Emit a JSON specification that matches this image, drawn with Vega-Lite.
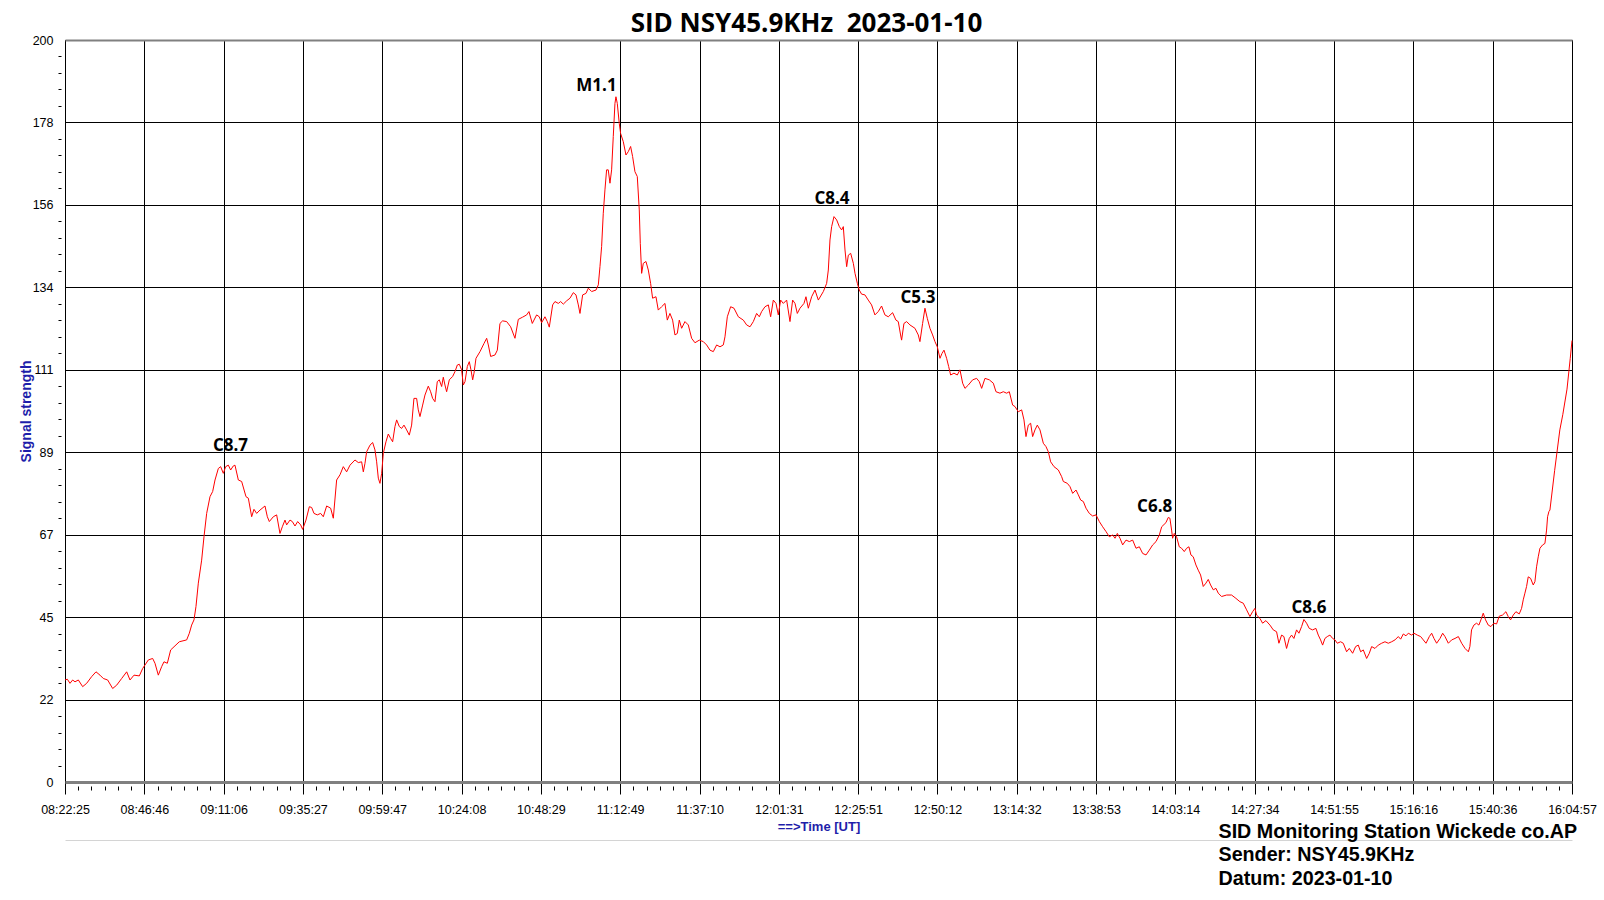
{
"$schema": "https://vega.github.io/schema/vega-lite/v6.json",
"width": 1507, "height": 742,
"autosize": {"type": "none"},
"padding": {"left": 65, "top": 40, "right": 32, "bottom": 118},
"background": "white",
"config": {"view": {"stroke": "black", "strokeWidth": 1}, "font": "Liberation Sans"},
"title": {"text": "SID NSY45.9KHz \u00a02023-01-10", "font": "Open Sans", "fontSize": 26, "fontWeight": "bold", "color": "black", "anchor": "middle", "frame": "group", "dx": -12, "dy": 30, "offset": 6, "baseline": "alphabetic"},
"datasets": {
"flares": [
{"t":50.80,"v":89.2,"label":"C8.7"},{"t":163.13,"v":186.2,"label":"M1.1"},{"t":235.41,"v":155.8,"label":"C8.4"},{"t":261.80,"v":129.1,"label":"C5.3"},{"t":334.45,"v":72.8,"label":"C6.8"},{"t":381.81,"v":45.6,"label":"C8.6"}
],
"sid": [
{"t":0,"v":27.5},{"t":0.72,"v":27.7},{"t":1.53,"v":26.6},{"t":2.35,"v":27.5},{"t":3.07,"v":27.0},{"t":4.09,"v":27.5},{"t":5.42,"v":25.7},{"t":6.65,"v":26.6},{"t":8.18,"v":28.4},{"t":9.51,"v":29.7},{"t":10.74,"v":28.8},{"t":11.76,"v":27.9},{"t":13.09,"v":27.5},{"t":14.63,"v":25.2},{"t":15.86,"v":26.1},{"t":17.39,"v":27.9},{"t":18.93,"v":29.7},{"t":19.95,"v":27.5},{"t":21.18,"v":28.8},{"t":22.81,"v":28.6},{"t":23.84,"v":30.6},{"t":25.58,"v":32.9},{"t":26.90,"v":33.3},{"t":27.62,"v":32.0},{"t":28.64,"v":28.8},{"t":29.67,"v":31.1},{"t":30.38,"v":32.4},{"t":31.41,"v":32.0},{"t":32.43,"v":35.6},{"t":33.76,"v":36.7},{"t":35.09,"v":37.8},{"t":37.34,"v":38.3},{"t":38.16,"v":40.1},{"t":38.87,"v":42.3},{"t":39.59,"v":43.7},{"t":40.20,"v":47.3},{"t":40.92,"v":53.6},{"t":41.94,"v":59.8},{"t":42.66,"v":66.1},{"t":43.48,"v":72.4},{"t":44.50,"v":76.9},{"t":45.32,"v":78.3},{"t":46.04,"v":81.4},{"t":47.06,"v":84.5},{"t":47.77,"v":85.0},{"t":48.59,"v":83.2},{"t":49.31,"v":85.0},{"t":50.13,"v":85.4},{"t":50.84,"v":84.1},{"t":51.66,"v":85.2},{"t":52.17,"v":85.4},{"t":53.20,"v":81.4},{"t":54.22,"v":81.0},{"t":55.55,"v":76.9},{"t":56.27,"v":76.5},{"t":57.29,"v":71.5},{"t":58.00,"v":73.5},{"t":58.82,"v":72.4},{"t":59.85,"v":73.3},{"t":61.38,"v":74.4},{"t":62.10,"v":71.5},{"t":62.71,"v":70.2},{"t":63.94,"v":71.5},{"t":64.96,"v":72.0},{"t":65.98,"v":67.0},{"t":66.70,"v":68.8},{"t":67.52,"v":70.6},{"t":68.03,"v":69.3},{"t":69.05,"v":70.6},{"t":69.77,"v":70.2},{"t":70.59,"v":69.0},{"t":71.41,"v":70.2},{"t":72.33,"v":69.3},{"t":72.94,"v":68.1},{"t":73.96,"v":70.6},{"t":74.99,"v":74.2},{"t":75.70,"v":74.0},{"t":76.42,"v":72.4},{"t":77.44,"v":72.0},{"t":78.46,"v":72.4},{"t":79.28,"v":71.5},{"t":80.31,"v":74.4},{"t":81.53,"v":73.8},{"t":82.35,"v":71.1},{"t":83.37,"v":81.4},{"t":84.40,"v":82.8},{"t":85.42,"v":85.0},{"t":86.44,"v":83.6},{"t":87.47,"v":85.4},{"t":89.00,"v":86.8},{"t":90.02,"v":86.1},{"t":91.05,"v":86.3},{"t":91.56,"v":83.6},{"t":92.07,"v":85.9},{"t":92.58,"v":89.0},{"t":93.61,"v":90.8},{"t":94.43,"v":91.5},{"t":95.14,"v":89.5},{"t":95.65,"v":86.3},{"t":96.16,"v":81.9},{"t":96.67,"v":80.5},
{"t":97.19,"v":83.2},{"t":97.70,"v":88.6},{"t":98.51,"v":91.7},{"t":99.23,"v":93.8},{"t":99.95,"v":92.6},{"t":100.56,"v":91.7},{"t":101.27,"v":95.8},{"t":101.79,"v":97.6},{"t":102.61,"v":95.8},{"t":103.32,"v":95.3},{"t":104.04,"v":96.2},{"t":104.86,"v":94.9},{"t":105.67,"v":93.5},{"t":106.39,"v":96.2},{"t":107.10,"v":103.4},{"t":107.92,"v":103.4},{"t":108.43,"v":100.3},{"t":108.95,"v":98.5},{"t":109.77,"v":101.6},{"t":110.48,"v":104.3},{"t":111.50,"v":106.7},{"t":112.22,"v":105.2},{"t":112.83,"v":103.4},{"t":113.55,"v":102.5},{"t":114.26,"v":107.9},{"t":114.88,"v":108.4},{"t":115.60,"v":106.6},{"t":116.11,"v":109.1},{"t":116.62,"v":107.0},{"t":117.13,"v":105.2},{"t":117.95,"v":108.4},{"t":118.97,"v":109.3},{"t":119.69,"v":110.6},{"t":120.41,"v":112.4},{"t":121.02,"v":112.6},{"t":121.74,"v":111.1},{"t":122.25,"v":107.0},{"t":122.76,"v":107.9},{"t":123.48,"v":112.0},{"t":124.09,"v":113.3},{"t":124.60,"v":111.1},{"t":125.12,"v":108.4},{"t":125.53,"v":110.2},{"t":126.14,"v":114.2},{"t":127.37,"v":116.0},{"t":128.60,"v":118.2},{"t":129.42,"v":119.6},{"t":129.93,"v":117.8},{"t":130.64,"v":114.7},{"t":131.97,"v":115.1},{"t":132.69,"v":116.4},{"t":133.50,"v":123.6},{"t":134.32,"v":124.3},{"t":135.55,"v":124.1},{"t":136.78,"v":122.7},{"t":138.11,"v":119.6},{"t":139.13,"v":124.7},{"t":140.46,"v":125.3},{"t":141.69,"v":125.9},{"t":142.40,"v":126.8},{"t":143.42,"v":123.6},{"t":144.75,"v":125.9},{"t":145.57,"v":125.4},{"t":146.29,"v":123.8},{"t":147.31,"v":125.4},{"t":148.03,"v":124.1},{"t":148.64,"v":122.6},{"t":149.67,"v":128.6},{"t":150.38,"v":129.5},{"t":151.41,"v":129.0},{"t":152.12,"v":129.5},{"t":152.94,"v":128.8},{"t":153.97,"v":129.7},{"t":154.99,"v":130.4},{"t":156.01,"v":131.9},{"t":156.83,"v":131.3},{"t":157.55,"v":128.6},{"t":158.06,"v":126.3},{"t":158.88,"v":131.3},{"t":159.90,"v":131.7},{"t":160.62,"v":133.1},{"t":161.64,"v":132.2},{"t":162.97,"v":132.6},{"t":163.69,"v":134.0},
{"t":164.19,"v":138.9},{"t":164.70,"v":144.3},{"t":165.21,"v":153.3},{"t":165.72,"v":159.6},{"t":166.23,"v":165.0},{"t":166.74,"v":165.0},{"t":167.26,"v":161.4},{"t":167.77,"v":165.0},{"t":168.28,"v":174.0},{"t":168.79,"v":182.9},{"t":169.10,"v":184.7},{"t":169.51,"v":182.9},{"t":170.12,"v":177.5},{"t":170.53,"v":174.8},{"t":171.35,"v":172.6},{"t":172.17,"v":169.0},{"t":172.88,"v":169.9},{"t":173.60,"v":171.3},{"t":174.21,"v":168.6},{"t":174.93,"v":164.5},{"t":175.65,"v":163.2},{"t":176.26,"v":154.2},{"t":176.57,"v":145.2},{"t":176.98,"v":137.1},{"t":177.49,"v":139.8},{"t":178.31,"v":140.3},{"t":179.03,"v":138.0},{"t":179.74,"v":134.4},{"t":180.35,"v":130.4},{"t":181.38,"v":130.8},{"t":182.09,"v":127.2},{"t":183.11,"v":128.1},{"t":184.14,"v":129.0},{"t":184.86,"v":124.5},{"t":185.67,"v":126.3},{"t":186.49,"v":124.5},{"t":187.21,"v":120.5},{"t":187.93,"v":120.9},{"t":188.54,"v":124.5},{"t":189.26,"v":122.3},{"t":190.28,"v":124.1},{"t":191.30,"v":123.2},{"t":192.33,"v":119.6},{"t":193.35,"v":118.4},{"t":194.68,"v":119.1},{"t":195.91,"v":118.7},{"t":196.93,"v":117.8},{"t":197.96,"v":116.4},{"t":198.98,"v":116.0},{"t":200.00,"v":117.8},{"t":201.03,"v":117.3},{"t":202.05,"v":117.8},{"t":202.56,"v":120.0},{"t":203.28,"v":125.4},{"t":204.30,"v":128.1},{"t":205.33,"v":127.7},{"t":206.66,"v":125.4},{"t":208.19,"v":124.5},{"t":209.21,"v":123.2},{"t":210.24,"v":122.7},{"t":211.26,"v":124.1},{"t":212.28,"v":126.3},{"t":213.10,"v":125.4},{"t":213.82,"v":126.8},{"t":214.84,"v":128.1},{"t":215.87,"v":128.6},{"t":216.58,"v":125.4},{"t":217.40,"v":129.9},{"t":218.22,"v":129.0},{"t":218.93,"v":125.9},{"t":219.65,"v":129.9},{"t":220.47,"v":129.0},{"t":221.49,"v":129.9},{"t":222.51,"v":124.1},{"t":223.33,"v":129.9},{"t":224.05,"v":129.0},{"t":224.76,"v":126.3},{"t":225.58,"v":127.7},{"t":226.81,"v":129.0},{"t":227.42,"v":130.8},{"t":228.14,"v":127.7},{"t":229.16,"v":130.8},{"t":230.19,"v":132.6},{"t":231.21,"v":129.9},{"t":232.75,"v":132.2},{"t":233.77,"v":134.4},{"t":234.28,"v":138.0},{"t":234.79,"v":146.1},{"t":235.30,"v":149.7},{"t":236.02,"v":152.4},{"t":236.84,"v":151.5},{"t":237.66,"v":149.7},{"t":238.37,"v":148.8},{"t":238.88,"v":149.7},{"t":239.40,"v":143.4},{"t":239.91,"v":138.9},{"t":240.42,"v":142.0},{"t":241.14,"v":142.5},{"t":241.96,"v":139.8},{"t":242.47,"v":137.1},{"t":243.19,"v":134.4},
{"t":243.78,"v":132.6},{"t":244.49,"v":131.5},{"t":245.51,"v":131.3},{"t":246.54,"v":129.9},{"t":247.56,"v":128.6},{"t":248.58,"v":125.9},{"t":249.61,"v":126.8},{"t":250.63,"v":128.3},{"t":251.65,"v":125.9},{"t":252.68,"v":125.4},{"t":254.01,"v":126.5},{"t":255.03,"v":124.5},{"t":255.75,"v":124.1},{"t":256.46,"v":120.5},{"t":256.77,"v":119.1},{"t":257.49,"v":123.6},{"t":258.31,"v":124.1},{"t":259.33,"v":123.2},{"t":260.87,"v":122.3},{"t":261.89,"v":120.5},{"t":262.40,"v":118.7},{"t":263.22,"v":123.6},{"t":263.94,"v":127.7},{"t":264.65,"v":125.0},{"t":265.47,"v":122.3},{"t":266.29,"v":120.5},{"t":267.01,"v":118.7},{"t":267.73,"v":117.3},{"t":268.55,"v":114.2},{"t":269.16,"v":115.5},{"t":269.78,"v":116.4},{"t":270.59,"v":114.2},{"t":271.21,"v":112.0},{"t":271.82,"v":109.7},{"t":272.85,"v":110.2},{"t":273.87,"v":109.7},{"t":274.69,"v":111.1},{"t":275.51,"v":107.5},{"t":276.22,"v":106.1},{"t":277.25,"v":107.0},{"t":278.58,"v":108.4},{"t":279.80,"v":108.8},{"t":280.62,"v":107.9},{"t":281.34,"v":106.1},{"t":282.36,"v":108.8},{"t":283.69,"v":108.4},{"t":284.92,"v":107.5},{"t":285.74,"v":105.2},{"t":286.96,"v":104.8},{"t":287.99,"v":105.2},{"t":289.01,"v":104.8},{"t":289.83,"v":105.2},{"t":290.85,"v":101.6},{"t":291.57,"v":101.2},{"t":292.59,"v":99.8},{"t":293.62,"v":100.3},{"t":294.33,"v":97.6},{"t":294.95,"v":93.1},{"t":295.66,"v":96.2},{"t":296.38,"v":96.7},{"t":296.99,"v":93.1},{"t":297.71,"v":94.9},{"t":298.43,"v":96.2},{"t":299.25,"v":94.9},{"t":300.27,"v":91.3},{"t":301.09,"v":90.4},{"t":301.81,"v":89.0},{"t":302.52,"v":86.3},{"t":303.55,"v":85.0},{"t":304.88,"v":84.1},{"t":305.90,"v":82.3},{"t":306.41,"v":81.0},{"t":307.64,"v":80.5},{"t":308.46,"v":79.6},{"t":309.28,"v":77.8},{"t":310.30,"v":78.7},{"t":311.01,"v":77.4},{"t":311.73,"v":76.0},{"t":312.55,"v":75.6},{"t":313.37,"v":73.8},{"t":314.39,"v":72.4},{"t":315.41,"v":71.7},{"t":316.44,"v":72.0},{"t":317.46,"v":70.2},{"t":318.48,"v":68.8},{"t":319.51,"v":67.5},{"t":320.53,"v":66.1},{"t":321.55,"v":66.6},{"t":322.27,"v":65.7},{"t":322.99,"v":67.0},{"t":323.80,"v":65.7},{"t":324.62,"v":63.9},{"t":325.65,"v":65.2},{"t":326.67,"v":64.8},{"t":327.69,"v":65.2},{"t":328.72,"v":63.0},{"t":329.74,"v":63.4},{"t":330.76,"v":61.6},{"t":331.79,"v":61.2},{"t":332.81,"v":62.5},{"t":333.83,"v":63.9},{"t":334.86,"v":64.8},{"t":335.88,"v":66.6},{"t":336.60,"v":68.8},
{"t":337.90,"v":69.9},{"t":338.61,"v":71.3},{"t":339.12,"v":71.1},{"t":339.64,"v":67.9},{"t":339.95,"v":65.7},{"t":340.46,"v":67.0},{"t":341.17,"v":66.1},{"t":341.99,"v":63.4},{"t":342.71,"v":63.0},{"t":343.53,"v":62.1},{"t":344.24,"v":63.0},{"t":344.96,"v":63.4},{"t":345.57,"v":61.2},{"t":346.29,"v":60.7},{"t":347.11,"v":58.5},{"t":347.82,"v":57.1},{"t":348.54,"v":55.8},{"t":349.36,"v":52.7},{"t":350.18,"v":53.6},{"t":350.89,"v":54.6},{"t":351.61,"v":53.1},{"t":352.43,"v":51.8},{"t":353.25,"v":52.2},{"t":353.96,"v":50.9},{"t":354.98,"v":50.0},{"t":356.52,"v":50.4},{"t":358.05,"v":50.4},{"t":359.38,"v":49.5},{"t":360.61,"v":48.6},{"t":361.63,"v":48.2},{"t":362.66,"v":46.4},{"t":363.68,"v":44.6},{"t":364.50,"v":45.9},{"t":365.21,"v":46.8},{"t":365.72,"v":45.0},{"t":366.75,"v":44.1},{"t":367.57,"v":42.8},{"t":368.59,"v":43.5},{"t":369.82,"v":42.3},{"t":370.84,"v":41.0},{"t":371.86,"v":40.5},{"t":372.58,"v":37.4},{"t":373.40,"v":39.6},{"t":374.11,"v":39.2},{"t":374.93,"v":36.0},{"t":375.75,"v":38.7},{"t":376.47,"v":39.6},{"t":377.18,"v":38.7},{"t":378.00,"v":41.0},{"t":378.72,"v":40.1},{"t":379.54,"v":41.9},{"t":380.25,"v":43.8},{"t":381.07,"v":42.8},{"t":381.89,"v":41.4},{"t":382.91,"v":41.0},{"t":383.94,"v":41.4},{"t":384.66,"v":39.6},{"t":385.37,"v":38.3},{"t":385.99,"v":36.9},{"t":386.70,"v":38.7},{"t":387.42,"v":39.2},{"t":388.24,"v":39.6},{"t":389.06,"v":38.7},{"t":389.78,"v":38.3},{"t":390.49,"v":37.4},{"t":391.51,"v":37.8},{"t":392.33,"v":37.4},{"t":393.36,"v":35.1},{"t":394.18,"v":36.0},{"t":395.20,"v":34.7},{"t":396.12,"v":36.5},{"t":396.94,"v":36.9},{"t":397.66,"v":35.1},{"t":398.48,"v":35.6},{"t":399.50,"v":33.3},{"t":400.32,"v":34.7},{"t":401.04,"v":36.5},{"t":402.06,"v":36.0},{"t":403.08,"v":36.9},{"t":404.11,"v":37.4},{"t":405.13,"v":37.8},{"t":406.15,"v":37.4},{"t":407.18,"v":37.8},{"t":408.20,"v":38.3},{"t":409.22,"v":39.2},{"t":409.94,"v":38.5},{"t":410.76,"v":39.9},{"t":411.58,"v":39.4},{"t":412.29,"v":40.1},{"t":413.32,"v":39.6},{"t":414.03,"v":40.1},{"t":415.05,"v":39.6},{"t":416.08,"v":39.2},{"t":416.90,"v":38.3},{"t":417.72,"v":37.4},{"t":418.74,"v":39.2},{"t":419.46,"v":40.1},{"t":420.17,"v":38.7},{"t":420.99,"v":37.4},{"t":422.02,"v":38.7},{"t":422.84,"v":40.1},{"t":423.55,"v":39.2},{"t":424.58,"v":37.4},{"t":425.60,"v":38.3},{"t":426.63,"v":38.7},{"t":427.65,"v":39.2},{"t":428.67,"v":37.4},{"t":429.70,"v":36.0},{"t":430.72,"v":35.1},
{"t":431.19,"v":36.5},{"t":431.70,"v":41.0},{"t":432.42,"v":42.3},{"t":433.24,"v":42.8},{"t":433.96,"v":42.3},{"t":434.57,"v":43.7},{"t":435.29,"v":45.5},{"t":436.00,"v":43.7},{"t":436.82,"v":42.3},{"t":437.64,"v":41.9},{"t":438.56,"v":42.8},{"t":439.38,"v":42.6},{"t":440.20,"v":44.7},{"t":441.22,"v":45.0},{"t":442.25,"v":45.9},{"t":442.96,"v":44.6},{"t":443.68,"v":43.7},{"t":444.50,"v":45.0},{"t":445.32,"v":45.9},{"t":446.34,"v":45.3},{"t":447.06,"v":46.8},{"t":447.57,"v":49.1},{"t":448.08,"v":50.9},{"t":448.59,"v":52.7},{"t":449.10,"v":55.3},{"t":449.82,"v":54.9},{"t":450.64,"v":53.1},{"t":451.15,"v":54.0},{"t":451.66,"v":58.0},{"t":452.17,"v":60.7},{"t":452.69,"v":63.0},{"t":453.51,"v":63.9},{"t":454.22,"v":64.3},{"t":454.73,"v":67.9},{"t":455.04,"v":71.5},{"t":455.45,"v":72.9},{"t":455.76,"v":73.3},{"t":457.2,"v":83.9},{"t":458.8,"v":94.9},{"t":459.7,"v":99.0},{"t":461.0,"v":105.9},{"t":462.0,"v":114.2},{"t":462.53,"v":119.0}
]
},
"resolve": {"axis": {"x": "independent", "y": "independent"}},
"layer": [
{
"data": {"name": "sid"},
"mark": {"type": "line", "color": "#ff0000", "strokeWidth": 1},
"encoding": {
"x": {"field": "t", "type": "quantitative", "scale": {"domain": [0, 462.53333], "nice": false, "zero": false},
 "axis": {"orient": "bottom", "values": [0, 24.35, 48.68333, 73.03333, 97.36667, 121.71667, 146.06667, 170.4, 194.75, 219.1, 243.43333, 267.78333, 292.11667, 316.46667, 340.81667, 365.15, 389.5, 413.85, 438.18333, 462.53333],
  "labelExpr": "utcFormat(round(datum.value*60)*1000 + 30145000, '%H:%M:%S')",
  "grid": true, "gridColor": "black", "gridOpacity": 1, "gridWidth": 1,
  "domain": false, "ticks": true, "tickColor": "black", "tickSize": 12, "tickWidth": 1,
  "labelFont": "Liberation Sans", "labelFontSize": 12.5, "labelColor": "black", "labelBaseline": "alphabetic", "labelPadding": 19,
  "labelFlush": false, "labelOverlap": false, "labelBound": false,
  "title": "==>Time [UT]", "titleFont": "Liberation Sans", "titleFontSize": 13, "titleFontWeight": "bold", "titleColor": "#1e1eaa",
  "titleX": 753.5, "titleY": 48, "titleAlign": "center", "titleBaseline": "alphabetic"}},
"y": {"field": "v", "type": "quantitative", "scale": {"domain": [0, 200], "nice": false, "zero": false},
 "axis": {"orient": "left", "values": [0, 22.22222, 44.44444, 66.66667, 88.88889, 111.11111, 133.33333, 155.55556, 177.77778, 200],
  "labelExpr": "['0','22','45','67','89','111','134','156','178','200'][round(datum.value*9/200)]",
  "grid": true, "gridColor": "black", "gridWidth": 1,
  "gridOpacity": {"condition": {"test": "datum.value < 1 || datum.value > 199", "value": 0}, "value": 1},
  "domain": false, "ticks": false, "labelPadding": 12,
  "labelFont": "Liberation Sans", "labelFontSize": 12.5, "labelColor": "black",
  "labelFlush": false, "labelOverlap": false, "labelBound": false,
  "title": "Signal strength", "titleFont": "Liberation Sans", "titleFontSize": 14, "titleFontWeight": "bold", "titleColor": "#1e1eaa",
  "titleX": -35, "titleY": 371, "titleAngle": 270, "titleAlign": "center", "titleBaseline": "alphabetic"}}
}
},
{
"data": {"name": "sid"},
"mark": {"type": "line", "strokeOpacity": 0},
"encoding": {
"x": {"field": "t", "type": "quantitative", "scale": {"domain": [0, 462.53333], "nice": false, "zero": false},
 "axis": {"orient": "bottom", "offset": 4, "values": [4.06,8.11,12.17,16.23,20.29,28.40,32.46,36.52,40.57,44.63,52.74,56.80,60.86,64.92,68.97,77.09,81.15,85.20,89.26,93.32,101.43,105.49,109.55,113.60,117.66,125.78,129.83,133.89,137.95,142.01,150.12,154.18,158.24,162.29,166.35,174.46,178.52,182.58,186.64,190.69,198.81,202.87,206.92,210.98,215.04,223.15,227.21,231.27,235.32,239.38,247.50,251.55,255.61,259.67,263.73,271.84,275.90,279.95,284.01,288.07,296.18,300.24,304.30,308.36,312.41,320.53,324.58,328.64,332.70,336.76,344.87,348.93,352.99,357.04,361.10,369.22,373.27,377.33,381.39,385.44,393.56,397.62,401.67,405.73,409.79,417.90,421.96,426.02,430.08,434.13,442.25,446.31,450.36,454.42,458.48],
  "labels": false, "grid": false, "domain": false, "ticks": true, "tickSize": 4, "tickColor": "black", "tickWidth": 1, "title": null}},
"y": {"field": "v", "type": "quantitative", "scale": {"domain": [0, 200], "nice": false, "zero": false},
 "axis": {"orient": "left", "offset": 4, "values": [4.44444,8.88889,13.33333,17.77778,26.66667,31.11111,35.55556,40,48.88889,53.33333,57.77778,62.22222,71.11111,75.55556,80,84.44444,93.33333,97.77778,102.22222,106.66667,115.55556,120,124.44444,128.88889,137.77778,142.22222,146.66667,151.11111,160,164.44444,168.88889,173.33333,182.22222,186.66667,191.11111,195.55556],
  "labels": false, "grid": false, "domain": false, "ticks": true, "tickSize": 3, "tickColor": "black", "tickWidth": 1, "title": null}}
}
},
{
"data": {"name": "flares"},
"mark": {"type": "text", "font": "Open Sans", "fontSize": 17, "fontWeight": "bold", "color": "black", "baseline": "alphabetic", "align": "center"},
"encoding": {
"x": {"field": "t", "type": "quantitative", "scale": {"domain": [0, 462.53333], "nice": false, "zero": false},
 "axis": {"orient": "top", "labels": false, "ticks": false, "grid": false, "domain": true, "domainColor": "#808080", "domainWidth": 2, "title": null, "zindex": 1}},
"y": {"field": "v", "type": "quantitative", "scale": {"domain": [0, 200], "nice": false, "zero": false}, "axis": null},
"text": {"field": "label"}
}
},
{
"data": {"name": "sid"},
"mark": {"type": "line", "strokeOpacity": 0},
"encoding": {
"x": {"field": "t", "type": "quantitative", "scale": {"domain": [0, 462.53333], "nice": false, "zero": false},
 "axis": {"orient": "bottom", "labels": false, "ticks": false, "grid": false, "domain": true, "domainColor": "#808080", "domainWidth": 3, "title": null, "zindex": 1}},
"y": {"field": "v", "type": "quantitative", "scale": {"domain": [0, 200], "nice": false, "zero": false}, "axis": null}
}
},
{
"data": {"name": "sid"},
"mark": {"type": "line", "strokeOpacity": 0},
"encoding": {
"x": {"field": "t", "type": "quantitative", "scale": {"domain": [0, 462.53333], "nice": false, "zero": false},
 "axis": {"orient": "bottom", "offset": 58, "labels": false, "ticks": false, "grid": false, "domain": true, "domainColor": "#d4d4d4", "domainWidth": 1,
  "title": ["SID Monitoring Station Wickede co.AP", "Sender: NSY45.9KHz", "Datum: 2023-01-10"],
  "titleFont": "Liberation Sans", "titleFontSize": 19.7, "titleFontWeight": "bold", "titleColor": "black",
  "titleAlign": "left", "titleBaseline": "alphabetic", "titleX": 1153, "titleY": -3, "titleLineHeight": 23.5}},
"y": {"field": "v", "type": "quantitative", "scale": {"domain": [0, 200], "nice": false, "zero": false}, "axis": null}
}
}
]
}
